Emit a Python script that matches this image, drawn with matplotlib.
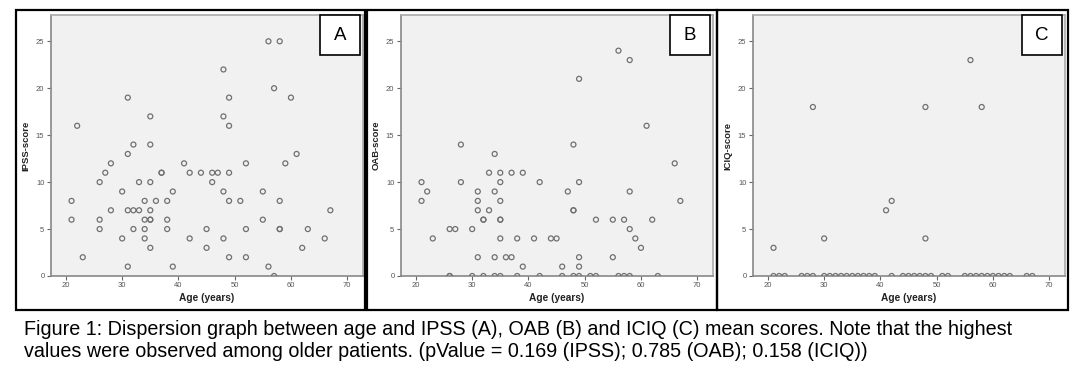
import matplotlib
matplotlib.use("Agg")
import matplotlib.pyplot as plt
from matplotlib.patches import Rectangle

# ---------------- data ----------------
ipss_age = [22, 31, 35, 32, 35, 56, 58, 48, 57, 60, 49, 48, 49,
            31, 28, 27, 37, 37, 26, 33, 35, 30, 39, 21, 34, 36, 38, 28, 31, 32, 33, 35,
            21, 26, 34, 35, 35, 38, 26, 32, 34, 38, 30, 34, 35, 23, 31, 39,
            41, 42, 61, 52, 59, 44, 46, 47, 49, 46, 48, 55, 49, 51, 58, 67, 55, 45,
            52, 58, 58, 63, 42, 48, 66, 45, 62, 49, 52, 56, 57]
ipss_score = [16, 19, 17, 14, 14, 25, 25, 22, 20, 19, 19, 17, 16,
              13, 12, 11, 11, 11, 10, 10, 10, 9, 9, 8, 8, 8, 8, 7, 7, 7, 7, 7,
              6, 6, 6, 6, 6, 6, 5, 5, 5, 5, 4, 4, 3, 2, 1, 1,
              12, 11, 13, 12, 12, 11, 11, 11, 11, 10, 9, 9, 8, 8, 8, 7, 6, 5,
              5, 5, 5, 5, 4, 4, 4, 3, 3, 2, 2, 1, 0]

oab_age = [28, 56, 58, 49, 61, 48,
           34, 33, 35, 37, 39, 21, 28, 35, 22, 31, 34, 21, 31, 35, 31, 33,
           32, 32, 35, 35, 26, 27, 30, 23, 35, 38, 41, 31, 34, 36, 37, 39,
           26, 26, 30, 32, 34, 35, 38,
           66, 42, 49, 47, 58, 67, 48, 48, 52, 55, 57, 62, 58, 44, 45, 59, 60,
           49, 55, 46, 49,
           42, 46, 48, 49, 51, 52, 56, 57, 58, 63]
oab_score = [14, 24, 23, 21, 16, 14,
             13, 11, 11, 11, 11, 10, 10, 10, 9, 9, 9, 8, 8, 8, 7, 7,
             6, 6, 6, 6, 5, 5, 5, 4, 4, 4, 4, 2, 2, 2, 2, 1,
             0, 0, 0, 0, 0, 0, 0,
             12, 10, 10, 9, 9, 8, 7, 7, 6, 6, 6, 6, 5, 4, 4, 4, 3,
             2, 2, 1, 1,
             0, 0, 0, 0, 0, 0, 0, 0, 0, 0]

iciq_age = [21, 30, 41, 42, 48, 28, 48, 56, 58,
            21, 22, 23, 26, 27, 28, 30, 31, 32, 33, 34, 35, 36, 37, 38, 39,
            42, 44, 45, 46, 47, 48, 49, 51, 52, 55, 56, 57, 58, 59, 60, 61,
            62, 63, 66, 67]
iciq_score = [3, 4, 7, 8, 4, 18, 18, 23, 18,
              0, 0, 0, 0, 0, 0, 0, 0, 0, 0, 0, 0, 0, 0, 0, 0,
              0, 0, 0, 0, 0, 0, 0, 0, 0, 0, 0, 0, 0, 0, 0, 0,
              0, 0, 0, 0]

panel_letters = ["A", "B", "C"]
y_labels = ["IPSS-score", "OAB-score", "ICIQ-score"]
x_label = "Age (years)"
x_ticks = [20, 30, 40, 50, 60, 70]
y_ticks = [0, 5, 10, 15, 20, 25]
caption = ["Figure 1: Dispersion graph between age and IPSS (A), OAB (B) and ICIQ (C) mean scores. Note that the highest",
           "values were observed among older patients. (pValue = 0.169 (IPSS); 0.785 (OAB); 0.158 (ICIQ))"]

# ---------------- layout (pixels) ----------------
W, H = 1080, 377
plt.rcParams['font.family'] = ['Liberation Sans', 'DejaVu Sans']
fig = plt.figure(figsize=(W / 100, H / 100), dpi=100)
fig.patch.set_facecolor("white")


def fx(px):
    return px / W


def fy(py):
    return 1 - py / H


frames = [(16, 365), (367, 717), (717, 1068)]
ax_left = [50.7, 400.7, 752.7]
ax_w = 312
ax_top, ax_bot = 15, 276

data = [(ipss_age, ipss_score), (oab_age, oab_score), (iciq_age, iciq_score)]

for i in range(3):
    x0, x1 = frames[i]
    fig.add_artist(Rectangle((fx(x0), fy(310)), fx(x1 - x0), (310 - 10) / H,
                             transform=fig.transFigure, fill=False,
                             edgecolor="black", linewidth=1.6))
    ax = fig.add_axes([fx(ax_left[i]), fy(ax_bot), fx(ax_w), (ax_bot - ax_top) / H])
    ax.set_facecolor("#f1f1f1")
    ages, scores = data[i]
    ax.scatter(ages, scores, s=13, facecolors="none", edgecolors="#707070",
               linewidths=0.9, zorder=3)
    ax.set_xlim(17.3, 72.75)
    ax.set_ylim(0, 27.8)
    ax.set_xticks(x_ticks)
    ax.set_yticks(y_ticks)
    ax.tick_params(axis="both", labelsize=5.5, colors="#666666", length=3,
                   width=0.8, pad=1.5)
    ax.tick_params(axis="both", labelcolor="#555555")
    for side in ["top", "right"]:
        ax.spines[side].set_color("#aaaaaa")
        ax.spines[side].set_linewidth(1.2)
    for side in ["left", "bottom"]:
        ax.spines[side].set_color("#888888")
        ax.spines[side].set_linewidth(1.2)
    ax.set_xlabel(x_label, fontsize=7.3, fontweight="bold", color="#222222", labelpad=3)
    ax.set_ylabel(y_labels[i], fontsize=6.8, fontweight="bold", color="#222222", labelpad=4)
    # letter box in top-right corner
    bx1 = ax_left[i] + ax_w - 3
    bx0 = bx1 - 39.5
    fig.add_artist(Rectangle((fx(bx0), fy(55)), fx(bx1 - bx0), 40 / H,
                             transform=fig.transFigure, facecolor="white",
                             edgecolor="black", linewidth=1.2, zorder=5))
    fig.text(fx((bx0 + bx1) / 2), fy(35), panel_letters[i], ha="center", va="center",
             fontsize=13.5, color="black", zorder=6)

fig.text(fx(24), fy(335), caption[0], fontsize=14.2, va="baseline", ha="left", color="black")
fig.text(fx(24), fy(357), caption[1], fontsize=14.2, va="baseline", ha="left", color="black")

fig.savefig("out.png", dpi=100)
